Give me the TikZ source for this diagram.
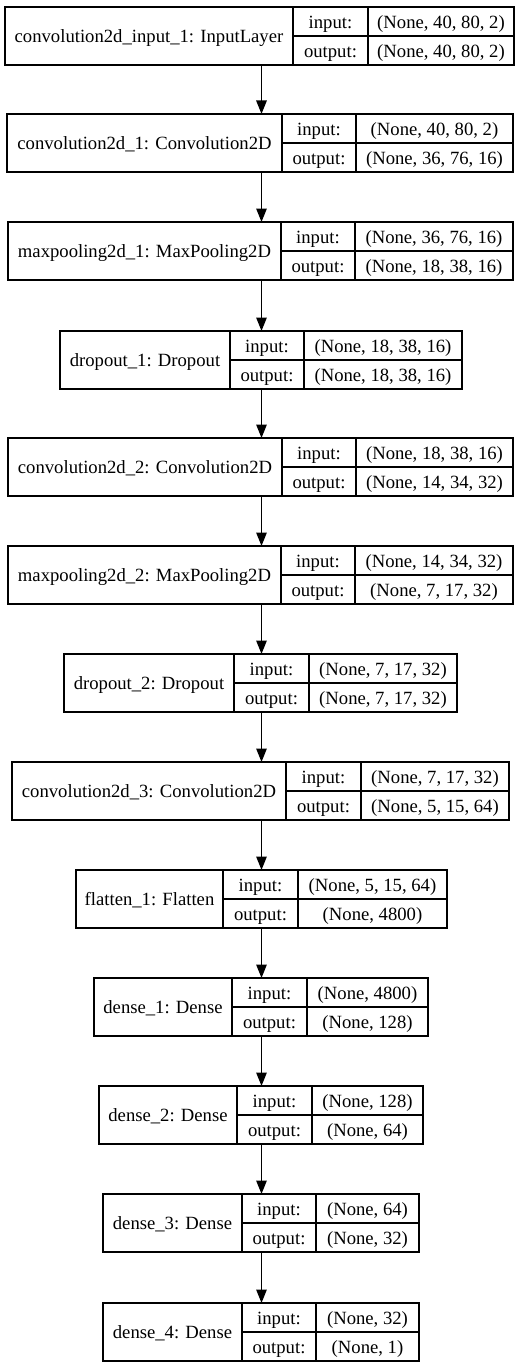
\documentclass[tikz,border=0pt]{standalone}
\usepackage{fontspec}
\setmainfont{Liberation Serif}
\newfontfamily\layerfont{Liberation Serif}
\usetikzlibrary{arrows.meta}
\tikzset{
  boxframe/.style={draw, line width=1.2pt, inner sep=0pt, outer sep=0pt},
  cellline/.style={line width=1.2pt},
  lbl/.style={inner sep=0pt, anchor=base, font=\layerfont\fontsize{18.67}{22}\selectfont},
  flow/.style={line width=1.2pt, -{Triangle[length=13.5pt,width=10.5pt]}},
}
% #1 id, #2 top, #3 left, #4 div1, #5 div2, #6 right, #7 label, #8 in, #9 out
\newcommand\kerasLayer[9]{%
  \node[boxframe, minimum width={#6pt-#3pt}, minimum height=58pt]
    (#1) at ({(#3+#6)/2},{#2+29}) {};
  \draw[cellline] (#4,#2) -- (#4,#2+58);
  \draw[cellline] (#5,#2) -- (#5,#2+58);
  \draw[cellline] (#4,#2+29) -- (#6,#2+29);
  \node[lbl] (#1-name) at ({(#3+#4)/2},{#2+29+6.8}) {#7};
  \node[lbl] (#1-ik) at ({(#4+#5)/2},{#2+14.5+6.8}) {input:};
  \node[lbl] (#1-ok) at ({(#4+#5)/2},{#2+43.5+6.8}) {output:};
  \node[lbl] (#1-iv) at ({(#5+#6)/2},{#2+14.5+6.8}) {#8};
  \node[lbl] (#1-ov) at ({(#5+#6)/2},{#2+43.5+6.8}) {#9};
}
\begin{document}
\begin{tikzpicture}[x=1pt,y=-1pt]
\useasboundingbox (0,0) rectangle (522,1367);
\fill[white] (0,0) rectangle (522,1367);
\coordinate (ax) at (261.5,0);
\kerasLayer{L1}{7}{5}{293}{368}{514}{convolution2d\_input\_1: InputLayer}{(None, 40, 80, 2)}{(None, 40, 80, 2)}
\kerasLayer{L2}{114}{7}{282}{356}{513}{convolution2d\_1: Convolution2D}{(None, 40, 80, 2)}{(None, 36, 76, 16)}
\kerasLayer{L3}{222}{8}{281}{355}{513}{maxpooling2d\_1: MaxPooling2D}{(None, 36, 76, 16)}{(None, 18, 38, 16)}
\kerasLayer{L4}{331}{60}{230}{304}{462}{dropout\_1: Dropout}{(None, 18, 38, 16)}{(None, 18, 38, 16)}
\kerasLayer{L5}{438}{8}{282}{356}{513}{convolution2d\_2: Convolution2D}{(None, 18, 38, 16)}{(None, 14, 34, 32)}
\kerasLayer{L6}{546}{8}{281}{355}{513}{maxpooling2d\_2: MaxPooling2D}{(None, 14, 34, 32)}{(None, 7, 17, 32)}
\kerasLayer{L7}{654}{64}{234}{309}{457}{dropout\_2: Dropout}{(None, 7, 17, 32)}{(None, 7, 17, 32)}
\kerasLayer{L8}{762}{12}{286}{361}{509}{convolution2d\_3: Convolution2D}{(None, 7, 17, 32)}{(None, 5, 15, 64)}
\kerasLayer{L9}{870}{76}{223}{298}{447}{flatten\_1: Flatten}{(None, 5, 15, 64)}{(None, 4800)}
\kerasLayer{L10}{978}{94}{232}{307}{428}{dense\_1: Dense}{(None, 4800)}{(None, 128)}
\kerasLayer{L11}{1086}{99}{237}{312}{423}{dense\_2: Dense}{(None, 128)}{(None, 64)}
\kerasLayer{L12}{1194}{103}{242}{316}{419}{dense\_3: Dense}{(None, 64)}{(None, 32)}
\kerasLayer{L13}{1303}{103}{242}{316}{419}{dense\_4: Dense}{(None, 32)}{(None, 1)}
\foreach \a/\b in {L1/L2,L2/L3,L3/L4,L4/L5,L5/L6,L6/L7,L7/L8,L8/L9,L9/L10,L10/L11,L11/L12,L12/L13}
  \draw[flow] (\a.south -| ax) -- (\b.north -| ax);
\end{tikzpicture}
\end{document}
